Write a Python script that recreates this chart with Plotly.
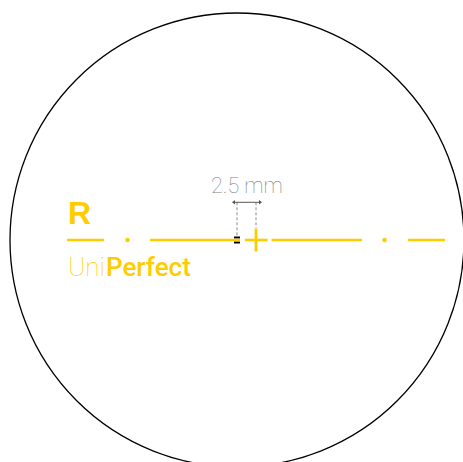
import plotly.graph_objects as go

YELLOW = "#FFCC00"
GRAY = "#808080"
DASH_GRAY = "#8C8C8C"
DARK = "#555555"

circle_box = [10, 13, 464, 467]  # x0, y0, x1, y1
baseline_y = 240
line_segments = [(67, 104), (150, 234), (245, 267.5), (271.5, 362), (408, 445)]
dot_xs = [127.5, 384.5]
cross_x = 256
cross_y = (228.5, 251.5)
black_x = (234, 240)
black_y = (237.5, 242.5)
dim_y = 202.3
dim_xs = [237, 256]
dim_end_xs = [234, 260]
dash_bottoms = [237, 228]

fig = go.Figure()


def seg(xs, ys, color, width, dash="solid"):
    fig.add_trace(go.Scatter(x=xs, y=ys, mode="lines", hoverinfo="skip",
                             line=dict(color=color, width=width, dash=dash)))


for a, b in line_segments:
    seg([a, b], [baseline_y, baseline_y], YELLOW, 2.6)
seg([black_x[0], black_x[1]], [black_y[0], black_y[0]], "#000000", 2)
seg([black_x[0], black_x[1]], [black_y[1], black_y[1]], "#000000", 2)
seg([black_x[0], black_x[1]], [baseline_y, baseline_y], YELLOW, 2.6)
seg([cross_x, cross_x], list(cross_y), YELLOW, 2.8)

fig.add_trace(go.Scatter(x=dot_xs, y=[baseline_y] * len(dot_xs), mode="markers", hoverinfo="skip",
                         marker=dict(color=YELLOW, size=4.5, line=dict(width=0))))

for x, bottom in zip(dim_xs, dash_bottoms):
    seg([x, x], [dim_y, bottom], DASH_GRAY, 1, "3px,2px")
seg(dim_end_xs, [dim_y, dim_y], DARK, 1)
fig.add_trace(go.Scatter(x=dim_end_xs, y=[dim_y, dim_y], mode="markers", hoverinfo="skip",
                         marker=dict(color=DARK, size=4, symbol=["triangle-left", "triangle-right"],
                                     line=dict(width=0))))

fig.add_shape(type="circle", xref="x", yref="y", x0=circle_box[0], y0=circle_box[1],
              x1=circle_box[2], y1=circle_box[3], line=dict(color="#000000", width=1.3))

labels = [
    dict(text="2.5 mm", x=246.5, y=185, xanchor="center",
         font=dict(family="Roboto", size=21.5, color=GRAY, weight=100)),
    dict(text="R", x=68, y=212.5, xanchor="left",
         font=dict(family="Liberation Sans", size=32, color=YELLOW, weight=700)),
    dict(text="Uni", x=67.5, y=267, xanchor="left",
         font=dict(family="Roboto", size=26, color=YELLOW, weight=100)),
    dict(text="Perfect", x=105.5, y=267, xanchor="left",
         font=dict(family="Roboto", size=26, color=YELLOW, weight=500)),
]
for l in labels:
    fig.add_annotation(xref="x", yref="y", yanchor="middle", showarrow=False,
                       borderpad=0, borderwidth=0, **l)

fig.update_layout(
    width=463, height=462, margin=dict(l=0, r=0, t=0, b=0),
    paper_bgcolor="#FFFFFF", plot_bgcolor="#FFFFFF", showlegend=False,
    xaxis=dict(range=[0, 463], visible=False, fixedrange=True),
    yaxis=dict(range=[462, 0], visible=False, fixedrange=True),
)
fig.write_html("out.html", config=dict(displayModeBar=False),
               post_script="document.body.style.margin='0';document.body.style.overflow='hidden';")
